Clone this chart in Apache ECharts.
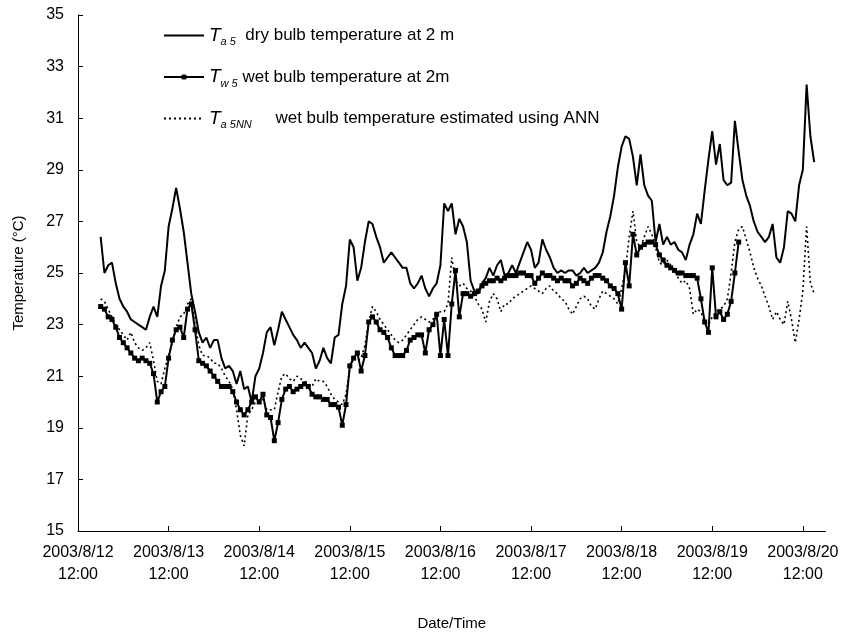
<!DOCTYPE html>
<html>
<head>
<meta charset="utf-8">
<script src="https://cdn.jsdelivr.net/npm/echarts@6/dist/echarts.min.js"></script>
<style>
  html, body { margin: 0; padding: 0; background: #fff; }
  #chart { width: 845px; height: 636px; }
</style>
</head>
<body>
<div id="chart"></div>
<script>
// Hourly readings; hour 0 = 2003/8/12 12:00, first reading at 18:00 (hour 6)
const START_HOUR = 6;

// Ta5: dry bulb temperature at 2 m (°C), hours 6..195
const dryBulb = [
  26.4, 25.0, 25.3, 25.4, 24.6, 24.0, 23.7, 23.5, 23.2, 23.1,
  23.0, 22.9, 22.8, 23.3, 23.7, 23.3, 24.5, 25.1, 26.8, 27.5,
  28.3, 27.5, 26.6, 25.4, 24.2, 23.5, 22.7, 22.3, 22.5, 22.1,
  22.4, 22.4, 21.7, 21.3, 21.4, 21.2, 20.7, 21.2, 20.5, 20.6,
  20.0, 21.0, 21.3, 21.9, 22.7, 22.9, 22.2, 22.8, 23.5, 23.2,
  22.9, 22.6, 22.4, 22.1, 22.3, 22.1, 21.9, 21.3, 21.6, 22.1,
  21.7, 21.5, 22.5, 22.6, 23.8, 24.5, 26.3, 26.0, 24.7, 25.2,
  26.2, 27.0, 26.9, 26.4, 26.0, 25.4, 25.6, 25.8, 25.6, 25.4,
  25.2, 25.2, 24.6, 24.4, 24.6, 24.9, 24.4, 24.1, 24.4, 24.6,
  25.3, 27.7, 27.4, 27.7, 26.5, 27.1, 26.8, 26.2, 24.7, 24.3,
  24.2, 24.6, 24.8, 25.2, 24.9, 25.3, 25.5, 24.9, 25.0, 25.3,
  25.0, 25.4, 25.8, 26.2, 25.9, 25.2, 25.4, 26.3, 25.9, 25.6,
  25.2, 25.0, 25.1, 25.0, 25.1, 25.1, 24.9, 25.0, 25.2, 25.0,
  25.1, 25.2, 25.4, 25.8, 26.6, 27.2, 28.0, 29.1, 29.9, 30.3,
  30.2, 29.5, 28.4, 29.6, 28.4, 28.0, 27.8, 26.2, 26.9, 26.1,
  26.4, 26.1, 26.2, 25.9, 25.8, 25.5, 26.1, 26.5, 27.3, 26.9,
  28.2, 29.4, 30.5, 29.2, 30.0, 28.6, 28.4, 28.5, 30.9, 29.7,
  28.6, 28.0, 27.6, 27.0, 26.6, 26.4, 26.2, 26.4, 26.9, 25.6,
  25.4, 26.0, 27.4, 27.3, 27.0, 28.4, 29.0, 32.3, 30.3, 29.3
];

// Tw5: wet bulb temperature at 2 m (°C), hours 6..175
const wetBulb = [
  23.7, 23.6, 23.3, 23.2, 22.9, 22.5, 22.3, 22.1, 21.9, 21.7,
  21.6, 21.7, 21.6, 21.5, 21.1, 20.0, 20.4, 20.6, 21.7, 22.4,
  22.8, 22.9, 22.5, 23.6, 23.8, 22.8, 21.6, 21.5, 21.4, 21.2,
  21.0, 20.8, 20.6, 20.6, 20.6, 20.4, 20.0, 19.7, 19.5, 19.7,
  20.0, 20.2, 20.0, 20.3, 19.5, 19.4, 18.5, 19.2, 20.1, 20.5,
  20.6, 20.4, 20.5, 20.6, 20.7, 20.6, 20.3, 20.2, 20.2, 20.1,
  20.1, 19.9, 19.9, 19.8, 19.1, 19.9, 21.4, 21.7, 21.9, 21.2,
  21.8, 23.1, 23.3, 23.1, 22.8, 22.7, 22.5, 22.1, 21.8, 21.8,
  21.8, 22.0, 22.4, 22.5, 22.6, 22.6, 21.9, 22.8, 23.0, 23.4,
  21.8, 23.2, 21.8, 23.8, 25.1, 23.3, 24.2, 24.2, 24.1, 24.2,
  24.3, 24.5, 24.6, 24.7, 24.7, 24.8, 24.7, 24.8, 24.9, 24.9,
  24.9, 25.0, 25.0, 24.9, 24.9, 24.6, 24.8, 25.0, 24.9, 24.9,
  24.8, 24.7, 24.8, 24.7, 24.7, 24.5, 24.6, 24.8, 24.7, 24.6,
  24.8, 24.9, 24.9, 24.8, 24.7, 24.5, 24.4, 24.2, 23.6, 25.4,
  24.5, 26.5, 25.7, 26.0, 26.1, 26.2, 26.2, 26.1, 25.7, 25.5,
  25.3, 25.2, 25.1, 25.0, 25.0, 24.9, 24.9, 24.9, 24.8, 24.0,
  23.1, 22.7, 25.2, 23.3, 23.5, 23.2, 23.4, 23.9, 25.0, 26.2
];

// Ta5NN: wet bulb temperature estimated using ANN (°C), hours 6..195
const annEstimate = [
  24.0, 23.9, 23.6, 23.3, 23.0, 22.8, 22.6, 22.4, 22.7, 22.3,
  22.1, 22.0, 22.1, 22.3, 21.6, 20.8, 20.7, 21.3, 21.8, 22.3,
  22.9, 23.3, 23.4, 23.8, 24.0, 23.0, 22.2, 21.8, 21.8, 21.7,
  21.5, 21.5, 21.3, 21.0, 20.8, 20.5, 19.7, 18.7, 18.3, 19.5,
  19.7, 20.0, 20.0, 20.1, 19.7, 19.7, 19.7, 20.4, 21.0, 21.1,
  20.9, 20.8, 21.0, 20.9, 20.8, 20.7, 20.6, 20.9, 20.8, 20.8,
  20.6, 20.3, 20.1, 20.0, 19.9, 20.3, 21.3, 21.7, 21.6, 21.7,
  22.2, 23.1, 23.7, 23.5, 23.2, 23.0, 22.8, 22.6, 22.4, 22.3,
  22.4, 22.6, 22.8, 23.0, 23.2, 23.3, 23.2, 23.1, 23.2, 23.4,
  23.5, 23.5, 23.8, 25.6, 24.7, 24.5, 24.6, 24.4, 24.3, 24.1,
  23.8, 23.6, 23.1, 23.9, 24.2, 24.0, 23.5, 23.8, 23.8, 24.0,
  24.1, 24.2, 24.3, 24.4, 24.5, 24.4, 24.3, 24.2, 24.4, 24.5,
  24.3, 24.2, 24.0, 23.9, 23.6, 23.4, 23.7, 24.0, 24.1, 24.0,
  23.7, 23.6, 24.0, 24.3, 24.2, 24.1, 24.0, 23.8, 24.4, 25.1,
  26.4, 27.4, 26.2, 26.0, 26.4, 26.8, 26.5, 26.0, 25.4, 25.3,
  25.5, 25.3, 25.1, 24.8, 24.6, 24.7, 24.4, 23.4, 23.6, 23.5,
  23.1, 23.0, 23.3, 23.5, 23.6, 23.7, 24.0, 25.0, 26.2, 26.7,
  26.8, 26.3, 25.8, 25.2, 24.8, 24.5, 24.1, 23.7, 23.2, 23.5,
  23.2, 23.0, 23.9, 23.2, 22.3, 23.2, 24.3, 26.8, 24.6, 24.2
];

// One label per day at 12:00
const tickLabels = [
  '2003/8/12\n12:00', '2003/8/13\n12:00', '2003/8/14\n12:00',
  '2003/8/15\n12:00', '2003/8/16\n12:00', '2003/8/17\n12:00',
  '2003/8/18\n12:00', '2003/8/19\n12:00', '2003/8/20\n12:00'
];

// Legend entries: series key, subscript, gap, description
const seriesNames = ['Ta5', 'Tw5', 'Ta5NN'];
const legendSubs = ['a 5', 'w 5', 'a 5NN'];
const legendGaps = ['  ', ' ', '     '];
const legendTexts = [
  'dry bulb temperature at 2 m',
  'wet bulb temperature at 2m',
  'wet bulb temperature estimated using ANN'
];

const toPairs = arr => arr.map((v, i) => [START_HOUR + i, v]);

const FONT = '"Liberation Sans", Arial, Helvetica, sans-serif';
const chart = echarts.init(document.getElementById('chart'), null, { renderer: 'canvas' });

// plain lines carry no marker in the legend
const noMarker = { color: 'rgba(0,0,0,0)', borderWidth: 0, opacity: 0 };

chart.setOption({
  animation: false,
  backgroundColor: '#ffffff',
  textStyle: { fontFamily: FONT, color: '#000' },
  grid: { left: 78, right: 19.5, top: 15, bottom: 104.3, containLabel: false },
  legend: {
    data: [
      { name: seriesNames[0], itemStyle: noMarker },
      { name: seriesNames[1] },
      { name: seriesNames[2], itemStyle: noMarker }
    ],
    orient: 'vertical',
    left: 158,
    top: 21,
    itemWidth: 40,
    itemHeight: 6,
    itemGap: 20,
    selectedMode: false,
    formatter: name => {
      const k = seriesNames.indexOf(name);
      return '{T|T}{sub|' + legendSubs[k] + '}{txt|' + legendGaps[k] + legendTexts[k] + '}';
    },
    textStyle: {
      color: '#000',
      fontFamily: FONT,
      rich: {
        T: { fontSize: 19, fontStyle: 'italic', fontFamily: FONT, color: '#000', lineHeight: 24 },
        sub: { fontSize: 11, fontStyle: 'italic', fontFamily: FONT, color: '#000', verticalAlign: 'bottom', lineHeight: 15 },
        txt: { fontSize: 17, fontFamily: FONT, color: '#000', lineHeight: 24 }
      }
    }
  },
  xAxis: {
    type: 'value',
    min: 0,
    max: 198,
    interval: 24,
    name: 'Date/Time',
    nameLocation: 'middle',
    nameGap: 85,
    nameTextStyle: { fontSize: 15, color: '#000', fontFamily: FONT },
    axisLine: { lineStyle: { color: '#000', width: 1 } },
    axisTick: { show: true, inside: true, length: 5, lineStyle: { color: '#000' } },
    splitLine: { show: false },
    axisLabel: {
      fontSize: 16,
      color: '#000',
      fontFamily: FONT,
      lineHeight: 22,
      margin: 11,
      showMaxLabel: false,
      formatter: v => (v % 24 === 0 && tickLabels[v / 24]) ? tickLabels[v / 24] : ''
    }
  },
  yAxis: {
    type: 'value',
    min: 15,
    max: 35,
    interval: 2,
    name: 'Temperature (°C)',
    nameLocation: 'middle',
    nameGap: 52,
    nameTextStyle: { fontSize: 15, color: '#000', fontFamily: FONT },
    axisLine: { show: true, lineStyle: { color: '#000', width: 1 } },
    axisTick: { show: true, inside: true, length: 5, lineStyle: { color: '#000' } },
    splitLine: { show: false },
    axisLabel: { fontSize: 16, color: '#000', fontFamily: FONT, margin: 14 }
  },
  series: [
    {
      name: 'Ta5',
      type: 'line',
      data: toPairs(dryBulb),
      symbol: 'none',
      lineStyle: { color: '#000', width: 2 },
      itemStyle: { color: '#000' },
      z: 3
    },
    {
      name: 'Tw5',
      type: 'line',
      data: toPairs(wetBulb),
      symbol: 'rect',
      symbolSize: 5,
      showAllSymbol: true,
      lineStyle: { color: '#000', width: 2 },
      itemStyle: { color: '#000' },
      z: 4
    },
    {
      name: 'Ta5NN',
      type: 'line',
      data: toPairs(annEstimate),
      symbol: 'none',
      lineStyle: { color: '#000', width: 1.6, type: [2, 3] },
      itemStyle: { color: '#000' },
      z: 2
    }
  ]
});
</script>
</body>
</html>
